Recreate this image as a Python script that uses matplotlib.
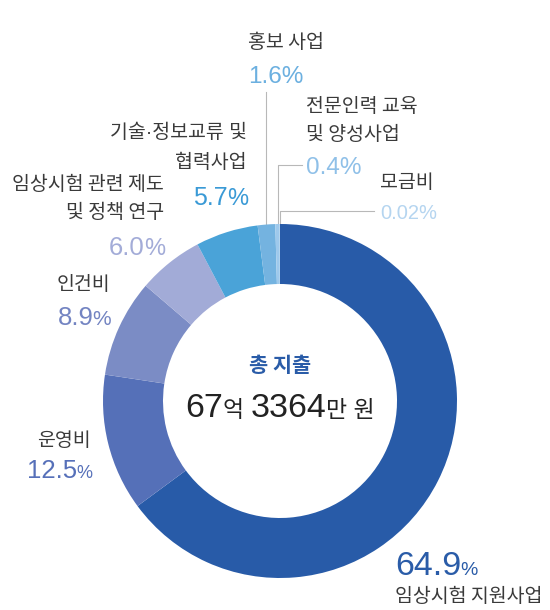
import numpy as np
import matplotlib.pyplot as plt

plt.rcParams['font.family'] = ['Noto Sans CJK KR', 'DejaVu Sans']

# data, clockwise from 12 o'clock
labels = ['임상시험 지원사업', '운영비', '인건비', '임상시험 관련 제도\n및 정책 연구',
          '기술·정보교류 및\n협력사업', '홍보 사업', '전문인력 교육\n및 양성사업', '모금비']
shares = [64.9, 12.5, 8.9, 6.0, 5.7, 1.6, 0.4, 0.02]
pct_text = ['64.9', '12.5', '8.9', '6.0', '5.7', '1.6', '0.4', '0.02']
slice_colors = ['#285ba8', '#5570b8', '#7b8cc5', '#a2abd7', '#4aa3d8', '#74b3e0', '#9ec9ec', '#c5def3']
pct_colors = ['#2a5ca8', '#5670b9', '#7384c2', '#a3acd8', '#3a9ad6', '#6cb0e0', '#8fc0e8', '#b5d5f0']
total_title = '총 지출'
total_parts = [('67', 'big'), ('억', 'small'), (' ', 'small'), ('3364', 'big'), ('만 원', 'small')]

# layout in pixels (y measured from top)
W, H = 550, 610
cx, cy, R, ring = 280, 401, 177, 60
# x, first label line y, alignment, percent baseline, number size, '%' size
spots = [(395, 596, 'left', 575, 24.5, 14),
         (91, 440, 'right', 478, 18.5, 13),
         (110, 284, 'right', 325, 18.5, 15),
         (164, 184, 'right', 255, 18.5, 17),
         (247, 133, 'right', 205, 18, 17),
         (248, 43, 'left', 83, 17.5, 17.5),
         (306, 106, 'left', 174, 17.5, 17.5),
         (380, 183, 'left', 219, 14.5, 14.5)]
line_step = 29
label_color = '#3a3a3a'
label_size = 14


def Y(py):
    return H - py


fig = plt.figure(figsize=(W / 100, H / 100), dpi=100)
ax = fig.add_axes([0, 0, 1, 1])
ax.pie(shares, colors=slice_colors, startangle=90, counterclock=False,
       radius=R, center=(cx, Y(cy)),
       wedgeprops=dict(width=ring, edgecolor='none'))
ax.set_xlim(0, W)
ax.set_ylim(0, H)
ax.set_aspect('equal')
ax.axis('off')

renderer = fig.canvas.get_renderer()


def draw_parts(parts, x, y, ha, squeeze=0.0):
    # parts: (text, size, color, weight, family); y is baseline in px
    items = []
    for txt, size, color, weight, fam in parts:
        t = ax.text(0, Y(y), txt, fontsize=size, color=color, fontweight=weight,
                    family=fam, ha='left', va='baseline')
        items.append(t)
    widths = [t.get_window_extent(renderer).width - squeeze for t in items]
    total = sum(widths)
    if ha == 'right':
        x0 = x - total
    elif ha == 'center':
        x0 = x - total / 2
    else:
        x0 = x
    for t, w in zip(items, widths):
        t.set_x(x0)
        x0 += w


num_font = ['Liberation Sans', 'Noto Sans CJK KR']

for i, lab in enumerate(labels):
    x, ly, ha, pb, ps, pcs = spots[i]
    for k, line in enumerate(lab.split('\n')):
        # the CJK middle dot is full width, take the narrow latin one
        fam = num_font if '·' in line else ['Noto Sans CJK KR', 'DejaVu Sans']
        ax.text(x, Y(ly + k * line_step), line, fontsize=label_size, color=label_color,
                ha=ha, va='center', fontweight='light', family=fam)
    if ps == pcs:
        draw_parts([(pct_text[i] + '%', ps, pct_colors[i], 'normal', num_font)], x, pb, ha)
    else:
        draw_parts([(pct_text[i], ps, pct_colors[i], 'normal', num_font),
                    ('%', pcs, pct_colors[i], 'normal', num_font)], x, pb, ha, squeeze=1)

# leader lines for the thin slices at the top
cum = np.cumsum([0] + shares)
mids = (cum[:-1] + cum[1:]) / 2 / cum[-1] * 2 * np.pi
lc = '#b8b8b8'
for i, (hx, hy) in zip([5, 6, 7], [(None, 92), (302, 165), (374, 211)]):
    ex = cx + R * np.sin(mids[i])
    ey = cy - R * np.cos(mids[i])
    xs = [ex, ex] if hx is None else [hx, ex, ex]
    ys = [hy, ey] if hx is None else [hy, hy, ey]
    ax.plot(xs, [Y(v) for v in ys], color=lc, lw=0.8, zorder=0)

# centre text
ax.text(cx, Y(365), total_title, fontsize=15, fontweight='bold', color='#2a5ca8',
        ha='center', va='center')
size_of = {'big': 24.5, 'small': 16.5}
draw_parts([(t, size_of[s], '#222222', 'normal', num_font) for t, s in total_parts],
           cx, 417, 'center')

fig.savefig('out.png', dpi=100)
